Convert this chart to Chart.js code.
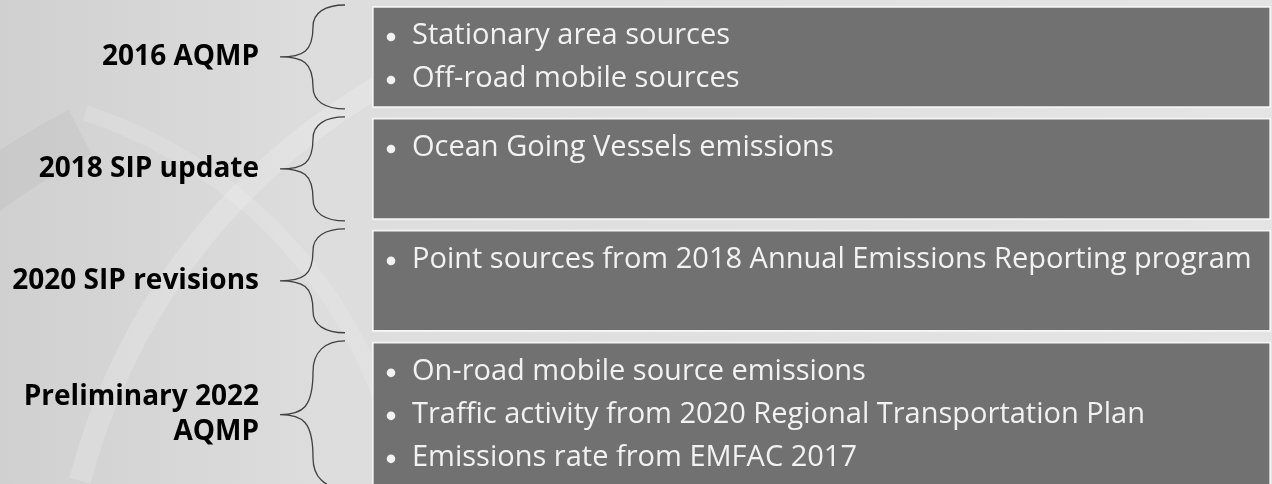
<!DOCTYPE html>
<html>
<head>
<meta charset="utf-8">
<script src="https://cdn.jsdelivr.net/npm/chart.js@4/dist/chart.umd.min.js"></script>
<style>
    html, body { margin: 0; padding: 0; background: #e2e2e2; overflow: hidden; }
    #wrap { position: relative; width: 1272px; height: 484px; }
</style>
</head>
<body>
<div id="wrap"><canvas id="stagesChart"></canvas></div>
<script>
// Inventory stages: label, span (in stage rows) and bullet items
const stageLabels = ['2016 AQMP', '2018 SIP update', '2020 SIP revisions', ['Preliminary 2022', 'AQMP']];
const stageFrom = [0, 1, 2, 3];
const stageTo = [0.91, 1.91, 2.91, 4.3];

const aqmp2016Items = ['Stationary area sources', 'Off-road mobile sources'];
const sip2018Items = ['Ocean Going Vessels emissions'];
const sip2020Items = ['Point sources from 2018 Annual Emissions Reporting program'];
const aqmp2022Items = [
    'On-road mobile source emissions',
    'Traffic activity from 2020 Regional Transportation Plan',
    'Emissions rate from EMFAC 2017'
];
const stageItems = [aqmp2016Items, sip2018Items, sip2020Items, aqmp2022Items];

const stageMid = stageFrom.map((f, i) => (f + stageTo[i]) / 2);

// ==================== PLUGINS ====================

const backdrop = {
    id: 'backdrop',
    beforeDraw(chart) {
        const ctx = chart.ctx;
        const w = chart.width, h = chart.height;
        ctx.save();
        const g = ctx.createLinearGradient(0, 0, w, 0);
        g.addColorStop(0, '#d0d0d0');
        g.addColorStop(0.25, '#dddddd');
        g.addColorStop(1, '#e4e4e4');
        ctx.fillStyle = g;
        ctx.fillRect(0, 0, w, h);

        // soft swooshes
        ctx.strokeStyle = 'rgba(255,255,255,0.18)';
        ctx.lineWidth = 22;
        ctx.beginPath();
        ctx.arc(700, 640, 640, Math.PI * 1.08, Math.PI * 1.4);
        ctx.stroke();
        ctx.strokeStyle = 'rgba(255,255,255,0.14)';
        ctx.lineWidth = 16;
        ctx.beginPath();
        ctx.arc(-60, 560, 470, Math.PI * 1.6, Math.PI * 1.95);
        ctx.stroke();
        ctx.strokeStyle = 'rgba(0,0,0,0.03)';
        ctx.lineWidth = 50;
        ctx.beginPath();
        ctx.arc(380, 720, 660, Math.PI * 1.1, Math.PI * 1.35);
        ctx.stroke();
        ctx.restore();
    }
};

const braces = {
    id: 'braces',
    afterDatasetsDraw(chart) {
        const ctx = chart.ctx;
        const y = chart.scales.y;
        const left = chart.chartArea.left;
        const xEnd = left - 27, xSpine = left - 59, xTip = left - 92;
        ctx.save();
        ctx.strokeStyle = '#404040';
        ctx.lineWidth = 1.3;
        stageFrom.forEach((f, i) => {
            const top = y.getPixelForValue(f) - 1;
            const bot = y.getPixelForValue(stageTo[i]) + 1;
            const mid = y.getPixelForValue(stageMid[i]);
            const H = mid - top;
            ctx.beginPath();
            ctx.moveTo(xEnd, top);
            ctx.bezierCurveTo(xSpine + 12, top, xSpine, top + 0.15 * H, xSpine, top + 0.42 * H);
            ctx.bezierCurveTo(xSpine, mid - 0.1 * H, xSpine - 10, mid, xTip, mid);
            ctx.bezierCurveTo(xSpine - 10, mid, xSpine, mid + 0.1 * H, xSpine, bot - 0.42 * H);
            ctx.bezierCurveTo(xSpine, bot - 0.15 * H, xSpine + 12, bot, xEnd, bot);
            ctx.stroke();
        });
        ctx.restore();
    }
};

const bulletText = {
    id: 'bulletText',
    afterDatasetsDraw(chart) {
        const ctx = chart.ctx;
        const y = chart.scales.y;
        const left = chart.chartArea.left;
        ctx.save();
        ctx.fillStyle = '#f2f2f2';
        ctx.font = '29px "Open Sans"';
        ctx.textBaseline = 'middle';
        ctx.textAlign = 'left';
        stageItems.forEach((items, i) => {
            const top = y.getPixelForValue(stageFrom[i]);
            items.forEach((txt, j) => {
                const cy = top + 30 + j * 43;
                ctx.beginPath();
                ctx.arc(left + 19, cy + 1, 4.3, 0, Math.PI * 2);
                ctx.fill();
                ctx.fillText(txt, left + 40, cy);
            });
        });
        ctx.restore();
    }
};

// ==================== CHART ====================

const ctx = document.getElementById('stagesChart').getContext('2d');
new Chart(ctx, {
    type: 'bar',
    data: {
        labels: ['stages'],
        datasets: stageLabels.map((s, i) => ({
            label: Array.isArray(s) ? s.join(' ') : s,
            data: [[stageFrom[i], stageTo[i]]],
            backgroundColor: '#717171',
            borderColor: '#f4f4f4',
            borderWidth: 2,
            borderSkipped: false,
            grouped: false,
            barPercentage: 1,
            categoryPercentage: 1
        }))
    },
    options: {
        responsive: true,
        maintainAspectRatio: false,
        animation: false,
        layout: { padding: { top: 6, right: 1, bottom: 0, left: 0 } },
        plugins: { legend: { display: false }, tooltip: { enabled: false } },
        scales: {
            x: { display: false },
            y: {
                type: 'linear',
                reverse: true,
                min: 0,
                max: 4.27,
                grid: { display: false, drawTicks: false },
                border: { display: false },
                afterBuildTicks: axis => { axis.ticks = stageMid.map(v => ({ value: v })); },
                afterFit: scale => {
                    scale.width = 372;
                    scale.paddingTop = 0;
                    scale.paddingBottom = 0;
                },
                ticks: {
                    autoSkip: false,
                    padding: 113,
                    color: '#000',
                    font: { family: 'Open Sans', size: 28, weight: 'bold', lineHeight: 1.25 },
                    callback: (v, i) => stageLabels[i]
                }
            }
        }
    },
    plugins: [backdrop, braces, bulletText]
});
</script>
</body>
</html>
